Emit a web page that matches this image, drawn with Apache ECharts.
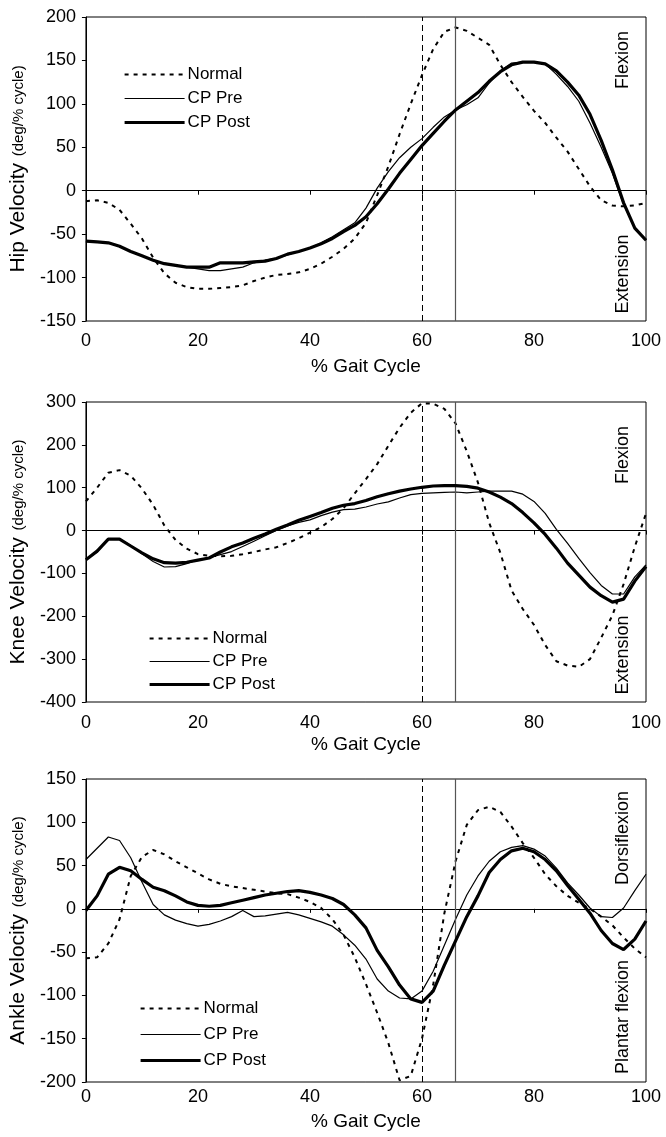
<!DOCTYPE html>
<html>
<head>
<meta charset="utf-8">
<script src="https://cdn.jsdelivr.net/npm/echarts@6/dist/echarts.min.js"></script>
<style>
  html, body { margin: 0; padding: 0; background: #fff; }
  #chart { width: 666px; height: 1137px; }
</style>
</head>
<body>
<div id="chart"></div>
<script>
var pct = [0, 2, 4, 6, 8, 10, 12, 14, 16, 18, 20, 22, 24, 26, 28, 30, 32, 34, 36, 38, 40, 42, 44, 46, 48, 50,
    52, 54, 56, 58, 60, 62, 64, 66, 68, 70, 72, 74, 76, 78, 80, 82, 84, 86, 88, 90, 92, 94, 96, 98, 100];
var seriesNames = ["Normal", "CP Pre", "CP Post"];

var hipNormal = [-12, -11, -14, -22, -38, -55, -77, -95, -106, -111, -113, -113, -112, -111, -109, -104, -100, -97, -96, -94,
    -90, -84, -76, -67, -55, -37, -5, 28, 65, 100, 133, 163, 183, 188, 184, 176, 168, 145, 125, 108,
    92, 78, 61, 45, 25, 5, -11, -17, -18, -17, -14];
var hipPre = [-58, -59, -60, -64, -70, -75, -80, -84, -86, -88, -90, -92, -92, -90, -88, -83, -80, -78, -74, -70,
    -66, -60, -53, -45, -37, -20, 3, 22, 38, 50, 60, 73, 85, 93, 99, 107, 124, 138, 147, 148,
    148, 146, 134, 120, 103, 78, 50, 20, -16, -43, -57];
var hipPost = [-58, -59, -60, -64, -70, -75, -80, -84, -86, -88, -88, -88, -83, -83, -83, -82, -81, -78, -73, -70,
    -66, -61, -55, -47, -40, -30, -15, 2, 20, 36, 52, 66, 80, 93, 103, 113, 126, 137, 145, 148,
    148, 146, 138, 125, 110, 88, 58, 24, -14, -43, -57];

var kneeNormal = [68, 100, 135, 141, 128, 98, 60, 12, -22, -42, -55, -59, -60, -59, -55, -50, -44, -39, -29, -18,
    -5, 8, 27, 52, 87, 120, 155, 198, 240, 275, 297, 296, 284, 250, 185, 112, 18, -52, -140, -183,
    -220, -267, -305, -315, -318, -300, -250, -198, -125, -38, 40];
var kneePre = [-68, -50, -20, -19, -35, -54, -72, -85, -84, -77, -68, -63, -56, -49, -37, -25, -12, 0, 11, 19,
    25, 35, 43, 49, 50, 55, 62, 67, 76, 84, 87, 88, 89, 90, 88, 90, 92, 92, 92, 85,
    68, 40, 3, -30, -65, -98, -128, -148, -148, -108, -80];
var kneePost = [-68, -48, -20, -20, -36, -52, -66, -75, -76, -74, -69, -64, -50, -38, -29, -18, -8, 3, 13, 24,
    33, 42, 52, 59, 63, 70, 79, 86, 92, 97, 101, 104, 105, 105, 103, 99, 90, 78, 63, 42,
    18, -9, -41, -76, -104, -132, -152, -167, -160, -118, -84];

var ankleNormal = [-57, -56, -40, -12, 38, 60, 68, 63, 55, 48, 41, 34, 29, 26, 24, 22, 20, 18, 17, 13,
    8, 1, -12, -30, -56, -87, -120, -155, -198, -193, -150, -88, -5, 55, 97, 114, 118, 112, 95, 76,
    59, 40, 26, 15, 7, 0, -9, -19, -33, -46, -56];
var anklePre = [57, 70, 83, 79, 59, 31, 5, -7, -13, -17, -20, -18, -14, -9, -2, -9, -8, -6, -4, -7,
    -11, -15, -20, -30, -42, -58, -81, -95, -103, -104, -95, -72, -42, -12, 16, 38, 55, 66, 71, 73,
    69, 61, 47, 30, 16, 1, -9, -10, 1, 21, 40];
var anklePost = [-2, 15, 40, 48, 44, 34, 25, 21, 15, 8, 4, 3, 4, 7, 10, 13, 16, 18, 20, 21,
    19, 16, 12, 5, -7, -22, -48, -67, -88, -104, -108, -95, -65, -37, -9, 15, 42, 57, 67, 70,
    66, 57, 44, 27, 11, -5, -25, -40, -47, -35, -14];

var yNames = ["Hip Velocity", "Knee Velocity", "Ankle Velocity"];
var yUnit = "(deg/% cycle)";
var yRanges = [[-150, 200, 50], [-400, 300, 100], [-200, 150, 50]];
var sideLabels = [["Flexion", "Extension"], ["Flexion", "Extension"], ["Dorsiflexion", "Plantar flexion"]];
var toeOff = 60;
var toeOffPost = 66;

var font = "Liberation Sans, Arial, sans-serif";
var panels = [
    { top: 17, height: 304, labelMargin: 11, nameGap: 36, legendLeft: 118, legendTop: 61, legendGap: 7, side: [60, 274] },
    { top: 402, height: 300, labelMargin: 12, nameGap: 33, legendLeft: 143, legendTop: 625, legendGap: 6, side: [455, 655] },
    { top: 779, height: 303, labelMargin: 6, nameGap: 30, legendLeft: 134, legendTop: 995, legendGap: 9, side: [838, 1017] }
];
var allData = [[hipNormal, hipPre, hipPost], [kneeNormal, kneePre, kneePost], [ankleNormal, anklePre, anklePost]];

function pairs(values) {
    var out = [];
    for (var i = 0; i < pct.length; i++) {
        out.push([pct[i], values[i]]);
    }
    return out;
}

var grids = [], xAxes = [], yAxes = [], series = [], legends = [], texts = [];

for (var p = 0; p < 3; p++) {
    var cfg = panels[p];
    grids.push({
        left: 66, right: 20, top: cfg.top, height: cfg.height,
        show: true, borderColor: "#000", borderWidth: 1, backgroundColor: "transparent"
    });
    xAxes.push({
        gridIndex: p, type: "value", min: 0, max: 100, interval: 20,
        name: "% Gait Cycle", nameLocation: "middle", nameGap: cfg.nameGap,
        nameTextStyle: { fontSize: 19, color: "#000", fontFamily: font },
        axisLine: { lineStyle: { color: "#000", width: 1 } },
        axisTick: { length: 4, lineStyle: { color: "#000" } },
        axisLabel: { fontSize: 18, color: "#000", fontFamily: font, margin: cfg.labelMargin },
        splitLine: { show: false }
    });
    yAxes.push({
        gridIndex: p, type: "value", min: yRanges[p][0], max: yRanges[p][1], interval: yRanges[p][2],
        name: "{a|" + yNames[p] + "}  {b|" + yUnit + "}", nameLocation: "middle", nameGap: 42, nameRotate: 90,
        nameTextStyle: {
            color: "#000",
            rich: {
                a: { fontSize: 21, fontFamily: font, color: "#000" },
                b: { fontSize: 15, fontFamily: font, color: "#000" }
            }
        },
        axisLine: { show: true, lineStyle: { color: "#000", width: 1 } },
        axisTick: { show: true, length: 4, lineStyle: { color: "#000" } },
        axisLabel: { fontSize: 18, color: "#000", fontFamily: font, margin: 10 },
        splitLine: { show: false }
    });

    var styles = [
        { width: 2, type: [4, 5] },
        { width: 1.2, type: "solid" },
        { width: 3.2, type: "solid" }
    ];
    for (var s = 0; s < 3; s++) {
        var item = {
            name: seriesNames[s], type: "line", xAxisIndex: p, yAxisIndex: p,
            data: pairs(allData[p][s]), showSymbol: false, symbol: "none",
            itemStyle: { color: "#000" },
            lineStyle: { color: "#000", width: styles[s].width, type: styles[s].type },
            z: 3 + s
        };
        if (s == 0) {
            item.markLine = {
                silent: true, symbol: ["none", "none"], label: { show: false }, animation: false,
                data: [
                    { yAxis: 0, lineStyle: { color: "#000", width: 1, type: "solid" } },
                    { xAxis: toeOff, lineStyle: { color: "#000", width: 1, type: [6, 4] } },
                    { xAxis: toeOffPost, lineStyle: { color: "#555", width: 1.2, type: "solid" } }
                ]
            };
        }
        series.push(item);
    }

    legends.push({
        orient: "vertical", left: cfg.legendLeft, top: cfg.legendTop,
        itemWidth: 60, itemHeight: 14, itemGap: cfg.legendGap,
        data: seriesNames, selectedMode: false,
        itemStyle: { opacity: 0, borderWidth: 0 },
        lineStyle: { width: "inherit", type: "inherit", color: "#000" },
        textStyle: { fontSize: 17, color: "#000", fontFamily: "Liberation Sans Narrow, Arial Narrow, " + font, padding: [0, 0, 0, -2] }
    });

    for (var t = 0; t < 2; t++) {
        texts.push({
            type: "text", x: 623, y: cfg.side[t], rotation: Math.PI / 2,
            style: {
                text: sideLabels[p][t], fill: "#000", font: "18px " + font,
                textAlign: "center", textVerticalAlign: "middle"
            }
        });
    }
}

var myChart = echarts.init(document.getElementById("chart"), null, { renderer: "canvas" });
myChart.setOption({
    backgroundColor: "#fff",
    animation: false,
    grid: grids,
    xAxis: xAxes,
    yAxis: yAxes,
    legend: legends,
    series: series,
    graphic: texts
});
</script>
</body>
</html>
